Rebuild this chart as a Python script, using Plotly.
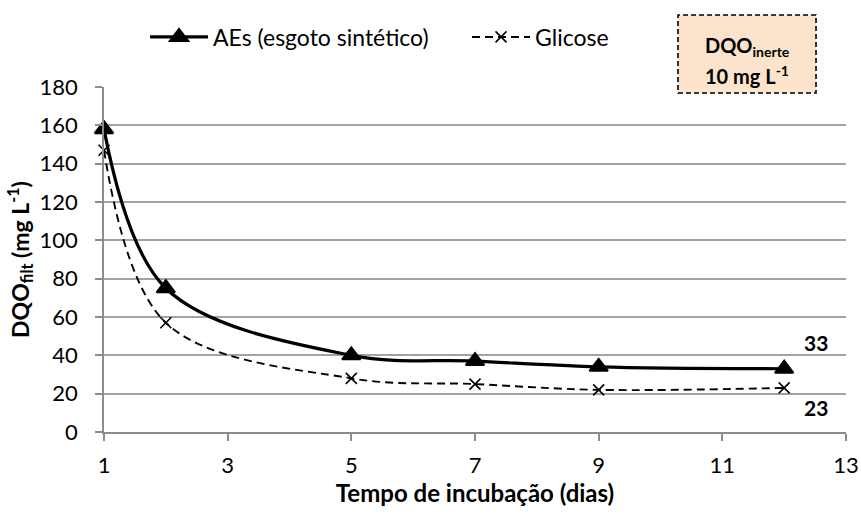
import plotly.graph_objects as go

# Incubation time (days) and filtered COD for each substrate
dias = [1, 2, 5, 7, 9, 12]
aes_dqo = [158, 75, 40, 37, 34, 33]
glicose_dqo = [147, 57, 28, 25, 22, 23]

x_ticks = [1, 3, 5, 7, 9, 11, 13]
y_ticks = [0, 20, 40, 60, 80, 100, 120, 140, 160, 180]

FONT = "Lato"
GRID = "#a3a3a3"
AXIS = "#8c8c8c"

fig = go.Figure()

fig.add_trace(go.Scatter(
    x=dias, y=aes_dqo, name="AEs (esgoto sintético)",
    mode="lines+markers", cliponaxis=False,
    line=dict(color="black", width=3.2, shape="spline", smoothing=1.0),
    marker=dict(symbol="triangle-up", size=16, color="black",
                line=dict(color="black", width=2)),
))
fig.add_trace(go.Scatter(
    x=dias, y=glicose_dqo, name="Glicose",
    mode="lines+markers", cliponaxis=False,
    line=dict(color="black", width=1.9, dash="8px,5px", shape="spline", smoothing=1.0),
    marker=dict(symbol="x-thin", size=11, line=dict(color="black", width=1.6)),
))

# End-point value labels
fig.add_annotation(x=dias[-1], y=aes_dqo[-1], text=f"<b>{aes_dqo[-1]}</b>",
                   showarrow=False, xshift=32, yshift=26,
                   xanchor="center", yanchor="middle",
                   font=dict(family=FONT, size=21, color="black"))
fig.add_annotation(x=dias[-1], y=glicose_dqo[-1], text=f"<b>{glicose_dqo[-1]}</b>",
                   showarrow=False, xshift=32, yshift=-20,
                   xanchor="center", yanchor="middle",
                   font=dict(family=FONT, size=21, color="black"))

# Inert COD box (two text lines placed separately)
fig.add_shape(type="rect", xref="paper", yref="paper",
              x0=0.7736, x1=0.9596, y0=0.9826, y1=1.2087,
              fillcolor="#fce4cc", line=dict(color="black", width=1.6, dash="5px,3px"),
              layer="above")
fig.add_annotation(xref="paper", yref="paper", x=0.8666, y=1.118,
                   xanchor="center", yanchor="middle",
                   text="<b>DQO<sub>inerte</sub></b>",
                   showarrow=False, align="center",
                   font=dict(family=FONT, size=20, color="black"))
fig.add_annotation(xref="paper", yref="paper", x=0.8666, y=1.036,
                   xanchor="center", yanchor="middle",
                   text="<b>10 mg L<sup>-1</sup></b>",
                   showarrow=False, align="center",
                   font=dict(family=FONT, size=20, color="black"))

fig.update_layout(
    width=861, height=515,
    margin=dict(l=104, r=15, t=87, b=83, autoexpand=False),
    paper_bgcolor="white", plot_bgcolor="white",
    font=dict(family=FONT, size=21, color="black"),
    showlegend=True,
    legend=dict(orientation="h", x=0.0553, y=1.145, xanchor="left", yanchor="middle",
                font=dict(family=FONT, size=23), itemwidth=58, entrywidth=249,
                bgcolor="rgba(0,0,0,0)", borderwidth=0),
    xaxis=dict(
        range=[1, 13], tickvals=x_ticks, ticktext=[str(v) for v in x_ticks],
        showgrid=False, zeroline=False, automargin=False,
        showline=True, linecolor=AXIS, linewidth=1.5,
        ticks="outside", ticklen=7, tickcolor=AXIS, tickwidth=1.5,
        ticklabelstandoff=6,
        title=dict(text="<b>Tempo de incubação (dias)</b>", font=dict(family=FONT, size=24), standoff=8),
        tickfont=dict(family=FONT, size=22),
    ),
    yaxis=dict(
        range=[0, 180], tickvals=y_ticks,
        showgrid=True, gridcolor=GRID, gridwidth=1.5, zeroline=False, automargin=False,
        showline=True, linecolor=AXIS, linewidth=1.5,
        ticks="outside", ticklen=7, tickcolor=AXIS, tickwidth=1.5,
        ticklabelstandoff=13,
        title=dict(text="<b>DQO<sub>filt</sub> (mg L<sup>-1</sup>)</b>", font=dict(family=FONT, size=23), standoff=4),
        tickfont=dict(family=FONT, size=22),
    ),
)

fig.write_html("out.html")
